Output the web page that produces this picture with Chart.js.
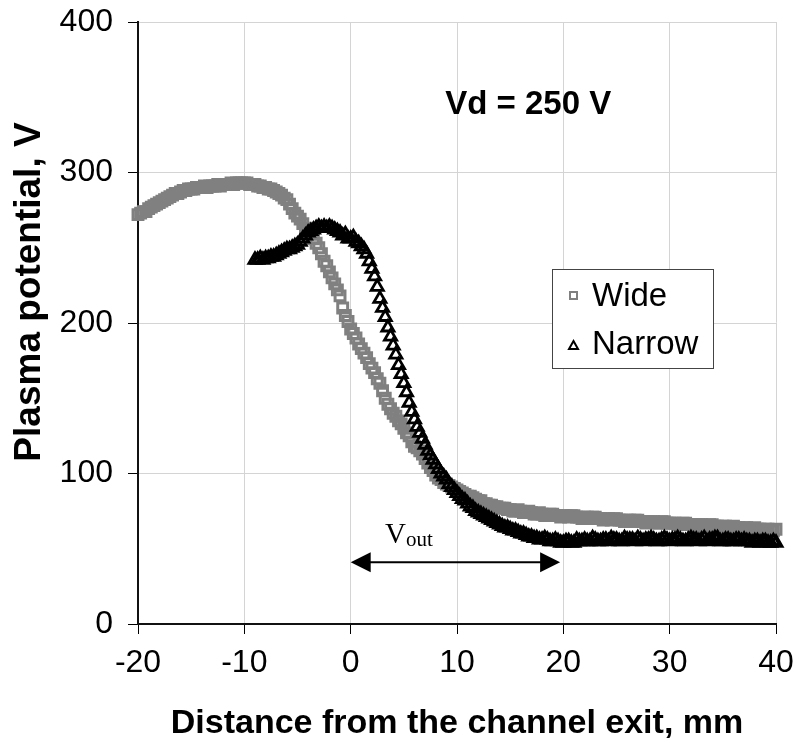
<!DOCTYPE html>
<html><head><meta charset="utf-8">
<script src="https://cdn.jsdelivr.net/npm/chart.js@4.4.1/dist/chart.umd.min.js"></script>
<style>html,body{margin:0;padding:0;background:#fff;}#wrap{width:799px;height:751px;}</style>
</head><body><div id="wrap"><canvas id="c" width="799" height="751"></canvas></div>
<script>
// ---- data: [distance from channel exit (mm), plasma potential (V)] ----
const widePoints = [
[-20,272],[-19.75,273],[-19.5,274],[-19.25,274],[-19,276],[-18.75,277],[-18.5,278],[-18.25,279],[-18,280],[-17.75,281],
[-17.5,282],[-17.25,283],[-17,284],[-16.75,285],[-16.5,286],[-16.25,286],[-16,287],[-15.75,288],[-15.5,288],[-15.25,289],
[-15,289],[-14.75,289],[-14.5,290],[-14.25,290],[-14,290],[-13.75,291],[-13.5,290],[-13.25,291],[-13,291],[-12.75,291],
[-12.5,292],[-12.25,291],[-12,292],[-11.75,292],[-11.5,292],[-11.25,293],[-11,292],[-10.75,293],[-10.5,293],[-10.25,293],
[-10,293],[-9.75,293],[-9.5,292],[-9.25,292],[-9,292],[-8.75,291],[-8.5,291],[-8.25,290],[-8,290],[-7.75,289],
[-7.5,289],[-7.25,288],[-7,287],[-6.75,286],[-6.5,285],[-6.25,283],[-6,282],[-5.75,279],[-5.5,276],[-5.25,273],
[-5,271],[-4.75,269],[-4.5,266],[-4.25,263],[-4,261],[-3.75,259],[-3.5,256],[-3.25,253],[-3,250],[-2.75,246],
[-2.5,241],[-2.25,238],[-2,234],[-1.75,230],[-1.5,226],[-1.25,222],[-1,218],[-0.75,210],[-0.5,205],[-0.25,201],
[0,196],[0.25,193],[0.5,190],[0.75,186],[1,183],[1.25,180],[1.5,177],[1.75,173],[2,170],[2.25,167],
[2.5,163],[2.75,160],[3,155],[3.25,150],[3.5,146],[3.75,143],[4,140],[4.25,138],[4.5,135],[4.75,133],
[5,130],[5.25,127],[5.5,125],[5.75,121],[6,118],[6.25,117],[6.5,115],[6.75,113],[7,110],[7.25,107],
[7.5,104],[7.75,102],[8,99],[8.25,97],[8.5,96],[8.75,94],[9,93],[9.25,92],[9.5,91],[9.75,90],
[10,89],[10.25,88],[10.5,87],[10.75,86],[11,85],[11.25,85],[11.5,84],[11.75,83],[12,82],[12.25,82],
[12.5,80],[12.75,80],[13,79],[13.25,79],[13.5,78],[13.75,78],[14,77],[14.25,77],[14.5,77],[14.75,76],
[15,76],[15.25,75],[15.5,75],[15.75,76],[16,75],[16.25,74],[16.5,74],[16.75,75],[17,74],[17.25,73],
[17.5,73],[17.75,74],[18,73],[18.25,72],[18.5,72],[18.75,73],[19,73],[19.25,72],[19.5,72],[19.75,71],
[20,72],[20.25,72],[20.5,71],[20.75,72],[21,72],[21.25,71],[21.5,71],[21.75,70],[22,71],[22.25,71],
[22.5,70],[22.75,71],[23,71],[23.25,70],[23.5,70],[23.75,69],[24,70],[24.25,70],[24.5,69],[24.75,70],
[25,70],[25.25,69],[25.5,69],[25.75,68],[26,69],[26.25,69],[26.5,68],[26.75,69],[27,69],[27.25,68],
[27.5,68],[27.75,67],[28,68],[28.25,68],[28.5,68],[28.75,67],[29,67],[29.25,68],[29.5,68],[29.75,67],
[30,67],[30.25,67],[30.5,67],[30.75,66],[31,66],[31.25,67],[31.5,67],[31.75,66],[32,66],[32.25,65],
[32.5,66],[32.75,66],[33,66],[33.25,65],[33.5,65],[33.75,66],[34,66],[34.25,65],[34.5,65],[34.75,64],
[35,65],[35.25,65],[35.5,64],[35.75,64],[36,65],[36.25,64],[36.5,64],[36.75,63],[37,64],[37.25,64],
[37.5,63],[37.75,63],[38,64],[38.25,63],[38.5,63],[38.75,62],[39,63],[39.25,63],[39.5,62],[39.75,62],[40,63]
];
const narrowPoints = [
[-9,242],[-8.75,242],[-8.5,243],[-8.25,242],[-8,243],[-7.75,243],[-7.5,244],[-7.25,244],[-7,245],[-6.75,246],
[-6.5,247],[-6.25,248],[-6,249],[-5.75,249],[-5.5,250],[-5.25,251],[-5,252],[-4.75,254],[-4.5,256],[-4.25,258],
[-4,260],[-3.75,261],[-3.5,262],[-3.25,263],[-3,264],[-2.75,263],[-2.5,264],[-2.25,263],[-2,264],[-1.75,263],
[-1.5,262],[-1.25,261],[-1,260],[-0.75,258],[-0.5,259],[-0.25,256],[0,256],[0.25,257],[0.5,254],[0.75,253],
[1,251],[1.25,249],[1.5,246],[1.75,241],[2,236],[2.25,231],[2.5,224],[2.75,216],[3,210],[3.25,204],
[3.5,197],[3.75,191],[4,185],[4.25,179],[4.5,172],[4.75,166],[5,160],[5.25,154],[5.5,147],[5.75,141],
[6,136],[6.25,131],[6.5,127],[6.75,123],[7,119],[7.25,115],[7.5,112],[7.75,109],[8,106],[8.25,103],
[8.5,100],[8.75,98],[9,96],[9.25,93],[9.5,91],[9.75,89],[10,87],[10.25,85],[10.5,83],[10.75,82],
[11,80],[11.25,78],[11.5,77],[11.75,75],[12,74],[12.25,73],[12.5,72],[12.75,71],[13,70],[13.25,69],
[13.5,68],[13.75,67],[14,66],[14.25,65],[14.5,64],[14.75,64],[15,63],[15.25,62],[15.5,62],[15.75,61],
[16,60],[16.25,60],[16.5,59],[16.75,58],[17,58],[17.25,57],[17.5,57],[17.75,56],[18,56],[18.25,57],
[18.5,56],[18.75,55],[19,55],[19.25,56],[19.5,55],[19.75,54],[20,54],[20.25,55],[20.5,55],[20.75,54],
[21,54],[21.25,56],[21.5,55],[21.75,55],[22,56],[22.25,55],[22.5,55],[22.75,57],[23,56],[23.25,55],
[23.5,55],[23.75,56],[24,56],[24.25,55],[24.5,57],[24.75,56],[25,56],[25.25,55],[25.5,55],[25.75,57],
[26,56],[26.25,56],[26.5,56],[26.75,55],[27,57],[27.25,56],[27.5,55],[27.75,56],[28,56],[28.25,57],
[28.5,56],[28.75,55],[29,55],[29.25,56],[29.5,57],[29.75,56],[30,55],[30.25,56],[30.5,56],[30.75,57],
[31,56],[31.25,55],[31.5,55],[31.75,56],[32,57],[32.25,56],[32.5,56],[32.75,55],[33,56],[33.25,57],
[33.5,55],[33.75,56],[34,56],[34.25,57],[34.5,57],[34.75,55],[35,55],[35.25,56],[35.5,56],[35.75,55],
[36,55],[36.25,56],[36.5,56],[36.75,55],[37,56],[37.25,55],[37.5,55],[37.75,54],[38,55],[38.25,55],
[38.5,54],[38.75,55],[39,55],[39.25,54],[39.5,54],[39.75,55],[40,54]
];
const seriesNames = ['Wide', 'Narrow'];
const xTicks = [-20,-10,0,10,20,30,40];
const yTicks = [0,100,200,300,400];
const voltageLabel = 'Vd = 250 V';
const vOutRange = [0, 19.7];   // arrow span, mm
const vOutLevel = 41;          // arrow height, V

const FONT = '"Liberation Sans", Arial, sans-serif';
const toPts = arr => arr.map(p => ({x: p[0], y: p[1]}));

const annot = {
  id: 'annot',
  afterDraw(chart) {
    const ctx = chart.ctx, xs = chart.scales.x, ys = chart.scales.y;
    ctx.save();
    ctx.translate(30, 292);
    ctx.rotate(-Math.PI / 2);
    ctx.fillStyle = '#000';
    ctx.font = 'bold 37px ' + FONT;
    ctx.textAlign = 'center';
    ctx.textBaseline = 'middle';
    ctx.fillText('Plasma potential, V', 0, 0);
    ctx.restore();

    ctx.save();
    ctx.fillStyle = '#000';
    ctx.font = 'bold 33px ' + FONT;
    ctx.textAlign = 'center';
    ctx.textBaseline = 'middle';
    ctx.fillText(voltageLabel, xs.getPixelForValue(16.7), ys.getPixelForValue(345));
    ctx.restore();

    const x0 = xs.getPixelForValue(vOutRange[0]), x1 = xs.getPixelForValue(vOutRange[1]);
    const y = ys.getPixelForValue(vOutLevel);
    ctx.save();
    ctx.strokeStyle = '#000'; ctx.fillStyle = '#000'; ctx.lineWidth = 2;
    ctx.beginPath(); ctx.moveTo(x0 + 15, y); ctx.lineTo(x1 - 15, y); ctx.stroke();
    ctx.beginPath(); ctx.moveTo(x0, y); ctx.lineTo(x0 + 20, y - 10); ctx.lineTo(x0 + 20, y + 10); ctx.closePath(); ctx.fill();
    ctx.beginPath(); ctx.moveTo(x1, y); ctx.lineTo(x1 - 20, y - 10); ctx.lineTo(x1 - 20, y + 10); ctx.closePath(); ctx.fill();
    ctx.font = '29px "Liberation Serif", "Times New Roman", serif';
    ctx.textAlign = 'left'; ctx.textBaseline = 'alphabetic';
    const lx = xs.getPixelForValue(3.23), ly = ys.getPixelForValue(53.8);
    ctx.fillText('V', lx, ly);
    const vw = ctx.measureText('V').width;
    ctx.font = '21px "Liberation Serif", "Times New Roman", serif';
    ctx.fillText('out', lx + vw, ly + 3);
    ctx.restore();

    ctx.save();
    const bx = 552, by = 269, bw = 161, bh = 99;
    ctx.fillStyle = '#fff';
    ctx.fillRect(bx, by, bw, bh);
    ctx.strokeStyle = '#444'; ctx.lineWidth = 1;
    ctx.strokeRect(bx + 0.5, by + 0.5, bw, bh);
    ctx.font = '33px ' + FONT;
    ctx.fillStyle = '#000';
    ctx.textAlign = 'left'; ctx.textBaseline = 'middle';
    ctx.strokeStyle = '#808080'; ctx.lineWidth = 2;
    ctx.strokeRect(570, 292, 7, 7);
    ctx.fillText(seriesNames[0], 592, 297);
    ctx.strokeStyle = '#000'; ctx.lineWidth = 2;
    ctx.beginPath(); ctx.moveTo(573.5, 341); ctx.lineTo(578, 349); ctx.lineTo(569, 349); ctx.closePath(); ctx.stroke();
    ctx.fillText(seriesNames[1], 592, 345);
    ctx.restore();
  }
};

new Chart(document.getElementById('c'), {
  type: 'scatter',
  data: {
    datasets: [
      { label: seriesNames[0], data: toPts(widePoints), pointStyle: 'rect', pointRadius: 7, pointBorderWidth: 3,
        borderColor: '#808080', backgroundColor: 'rgba(0,0,0,0)', showLine: false, clip: false, order: 2 },
      { label: seriesNames[1], data: toPts(narrowPoints), pointStyle: 'triangle', pointRadius: 7, pointBorderWidth: 2.8,
        borderColor: '#000', backgroundColor: 'rgba(0,0,0,0)', showLine: false, clip: false, order: 1 }
    ]
  },
  options: {
    responsive: false, animation: false, devicePixelRatio: 1,
    layout: { padding: { top: 22, right: 23, left: 0, bottom: 0 } },
    plugins: { legend: { display: false }, tooltip: { enabled: false } },
    scales: {
      x: {
        type: 'linear', min: -20, max: 40,
        afterBuildTicks: s => { s.ticks = xTicks.map(v => ({value: v})); },
        afterFit: s => { s.height = 127; s.paddingLeft = 0; s.paddingRight = 0; },
        ticks: { color: '#000', font: { size: 32, family: FONT }, padding: 10, maxRotation: 0 },
        grid: { color: '#d4d4d4', lineWidth: 1, tickColor: '#000', tickLength: 10 },
        border: { color: '#111', width: 2 },
        title: { display: true, text: 'Distance from the channel exit, mm', color: '#000',
                 font: { size: 34, weight: 'bold', family: FONT }, padding: { top: 0, bottom: 7 } }
      },
      y: {
        type: 'linear', min: 0, max: 400,
        afterBuildTicks: s => { s.ticks = yTicks.map(v => ({value: v})); },
        afterFit: s => { s.width = 138; s.paddingTop = 0; s.paddingBottom = 0; },
        ticks: { color: '#000', font: { size: 32, family: FONT }, padding: 15 },
        grid: { color: '#d4d4d4', lineWidth: 1, tickColor: '#000', tickLength: 10 },
        border: { color: '#111', width: 2 }
      }
    }
  },
  plugins: [annot]
});
</script></body></html>
